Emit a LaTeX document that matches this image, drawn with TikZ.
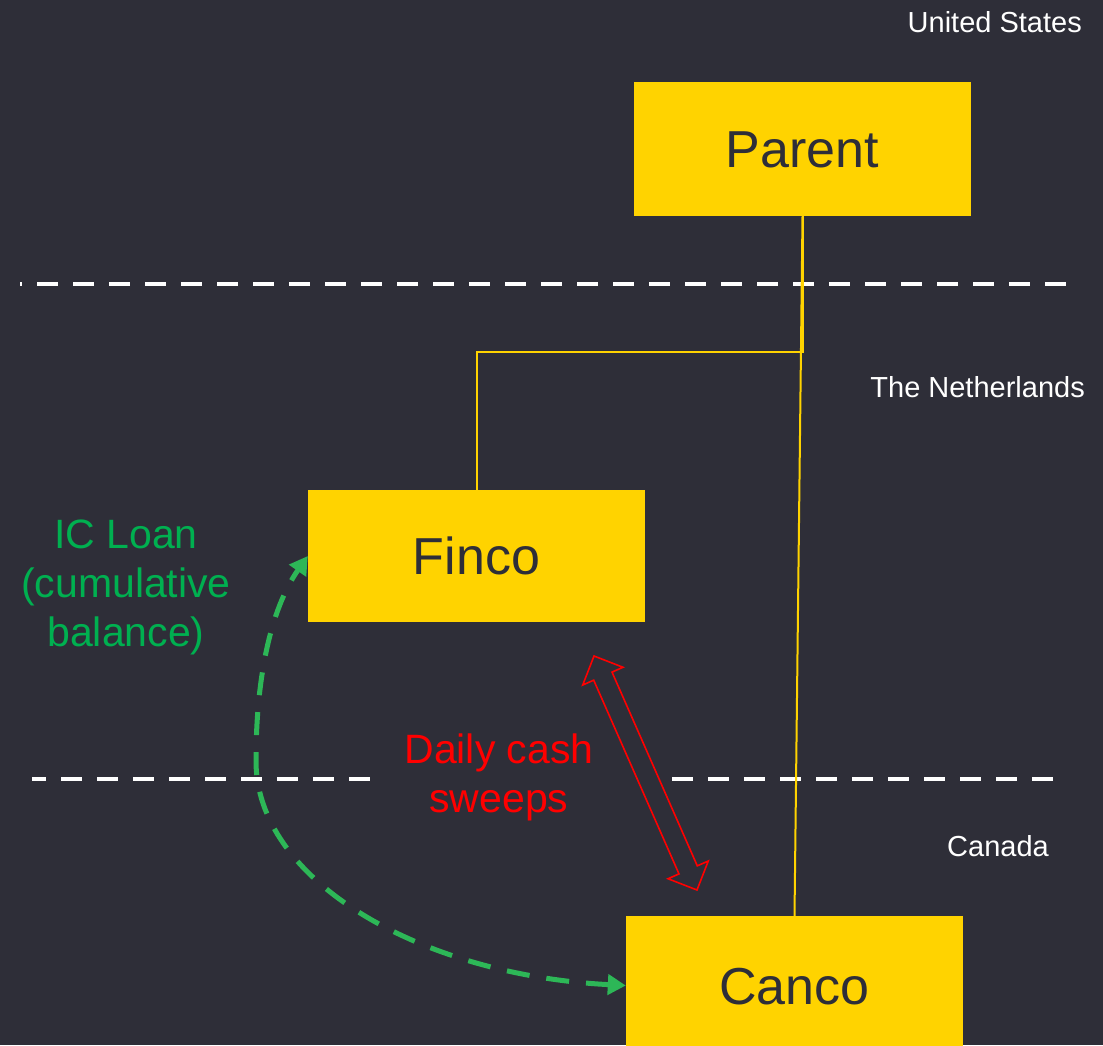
\documentclass[tikz,border=0pt]{standalone}
\usepackage{fontspec}
\setmainfont{Liberation Sans}
\usetikzlibrary{calc,arrows.meta}

\definecolor{bgdark}{HTML}{2E2E38}
\definecolor{eyyellow}{HTML}{FFD300}
\definecolor{loangreen}{HTML}{00B050}
\definecolor{arrowgreen}{HTML}{2DB757}
\definecolor{sweepred}{HTML}{FF0000}

\tikzset{
  entity/.style={fill=eyyellow, text=bgdark, inner sep=0pt,
    minimum width=337pt, font=\fontsize{52}{62}\selectfont,
    text height=37pt, text depth=0pt},
  region/.style={text=white, inner sep=0pt, anchor=base east,
    font=\fontsize{29}{35}\selectfont},
  border/.style={white, line width=4pt},
  owner/.style={eyyellow, line width=2pt},
  note/.style={inner sep=0pt, align=center,
    font=\fontsize{41}{49}\selectfont},
  sweep/.style={sweepred, line width=1.6pt, line join=miter},
  loan/.style={arrowgreen, line width=5pt, dash pattern=on 23pt off 17pt,
    {Triangle[length=18pt,width=20pt]}-{Triangle[length=18pt,width=20pt]}}
}

\begin{document}
\begin{tikzpicture}[x=1pt,y=-1pt]
  % canvas
  \fill[bgdark] (0,0) rectangle (1103,1045);
  \useasboundingbox (0,0) rectangle (1103,1045);

  % jurisdiction borders
  \coordinate (usL) at (20,284);   \coordinate (usR) at (1066,284);
  \coordinate (caL) at (32,779);   \coordinate (caM) at (370,779);
  \coordinate (caN) at (672,779);  \coordinate (caR) at (1054,779);
  \draw[border, dash pattern=on 21pt off 15pt, dash phase=19pt] (usL) -- (usR);
  \draw[border, dash pattern=on 21pt off 15pt, dash phase=7pt] (caL) -- (caM);
  \draw[border, dash pattern=on 21pt off 15pt] (caN) -- (caR);

  % jurisdiction labels
  \node[region] (us) at (1082,32.5) {United States};
  \node[region] (nl) at (1085,397.5) {The Netherlands};
  \node[region] (ca) at (1049,856.5) {Canada};

  % entities
  \node[entity, minimum height=134pt] (parent) at (802.5,149) {Parent};
  \node[entity, minimum height=132pt] (finco) at (476.5,556) {Finco};
  \node[entity, minimum height=139pt] (canco) at (794.5,985.5) {Canco};

  % ownership lines
  \coordinate (elbow) at (802.5,352);
  \draw[owner] (parent.south) -- (elbow) -| (finco.north);
  \draw[owner] (parent.south) -- (canco.north);

  % cash sweep double arrow
  \coordinate (swA) at (594,656);
  \coordinate (swB) at (697,890);
  \coordinate (hA) at ($(swA)!22pt!(swB)$);
  \coordinate (hB) at ($(swB)!22pt!(swA)$);
  \draw[sweep] (swA)
    -- ($(hA)!22pt!90:(swB)$) -- ($(hA)!10pt!90:(swB)$)
    -- ($(hB)!10pt!-90:(swA)$) -- ($(hB)!22pt!-90:(swA)$)
    -- (swB)
    -- ($(hB)!22pt!90:(swA)$) -- ($(hB)!10pt!90:(swA)$)
    -- ($(hA)!10pt!-90:(swB)$) -- ($(hA)!22pt!-90:(swB)$)
    -- cycle;

  % intercompany loan
  \draw[loan] (canco.west)
    .. controls (420,975) and (255,880) .. (256,760)
    .. controls (256,680) and (270,610) .. (finco.west);

  % notes (base anchor sits on the last line)
  \node[note, text=loangreen, anchor=base] (icloan) at (126,646)
    {IC Loan\\(cumulative\\balance)};
  \node[note, text=sweepred, anchor=base] (sweeps) at (499,812)
    {Daily cash\\sweeps};
\end{tikzpicture}
\end{document}
